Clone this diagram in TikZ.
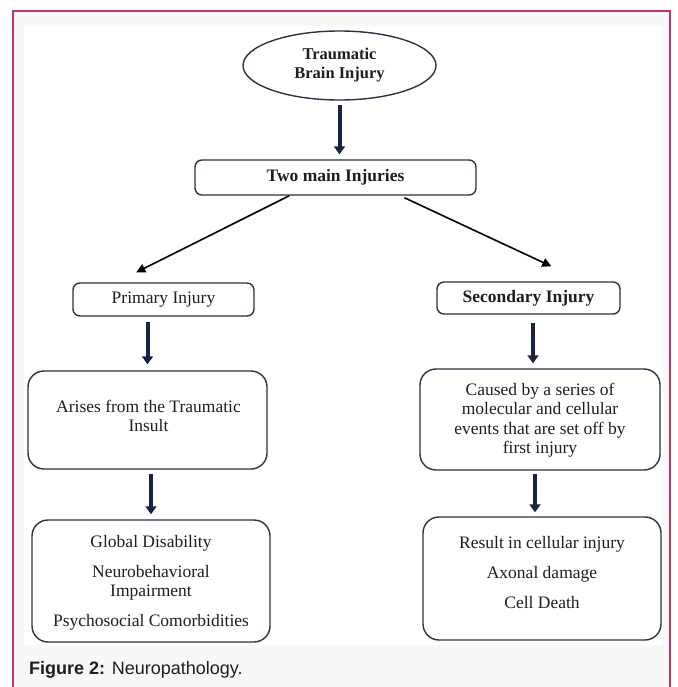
\documentclass[tikz,border=0pt]{standalone}
\usepackage{fontspec}
\setmainfont{Liberation Serif}
\newfontfamily\capfont{Liberation Sans}
\usetikzlibrary{shapes.geometric,arrows.meta}
\definecolor{framec}{HTML}{C8355A}
\definecolor{bggrey}{HTML}{F9F7F8}
\definecolor{ink}{HTML}{1E1E1E}
\definecolor{boxline}{HTML}{2E3244}
\definecolor{navy}{HTML}{1A2340}
\tikzset{
  boxbase/.style={draw=boxline, line width=1.4pt, fill=white, inner sep=0pt, align=center, text=ink},
  smallbox/.style={boxbase, rounded corners=7pt},
  bigbox/.style={boxbase, rounded corners=16pt},
  txt/.style={inner sep=0pt, align=center, text=ink, font=\fontsize{17.5}{19.5}\selectfont},
  thickarrow/.style={draw=navy, line width=4pt, -{Triangle[width=11pt,length=8pt]}},
  thinarrow/.style={draw=black, line width=1.6pt, -{Triangle[width=9pt,length=9pt]}},
}
\begin{document}
\begin{tikzpicture}[x=1pt,y=-1pt]
\useasboundingbox (0,0) rectangle (677,687);
\fill[bggrey] (13,11) rectangle (670,700);
\fill[white] (24,26) rectangle (663,645);
\draw[framec, line width=1.5pt] (13,11) rectangle (670,700);

\node[boxbase, ellipse, minimum width=193pt, minimum height=69pt, font=\bfseries\fontsize{16.5}{19}\selectfont] (tbi) at (339.5,65.5) {Traumatic\\Brain Injury};

\node[smallbox, minimum width=281pt, minimum height=35pt, font=\bfseries\fontsize{17.5}{20}\selectfont] (two) at (335.5,177.5) {Two main Injuries};

\node[smallbox, minimum width=181pt, minimum height=33pt, font=\fontsize{17.5}{20}\selectfont] (prim) at (163.5,299.5) {Primary Injury};
\node[smallbox, minimum width=183pt, minimum height=32pt, font=\bfseries\fontsize{17.5}{20}\selectfont] (sec) at (528.5,298) {Secondary Injury};

\node[bigbox, minimum width=239pt, minimum height=98pt] (arise) at (147.5,420) {};
\node[txt] (arisetxt) at (148.5,416) {Arises from the Traumatic\\Insult};

\node[bigbox, minimum width=240pt, minimum height=101pt] (caused) at (540,419.5) {};
\node[txt] (causedtxt) at (540,420) {Caused by a series of\\molecular and cellular\\events that are set off by\\first injury};

\node[bigbox, minimum width=238pt, minimum height=122pt] (glob) at (151,581) {};
\node[txt] (globtxt) at (151,583) {Global Disability\\[10pt]Neurobehavioral\\Impairment\\[10pt]Psychosocial Comorbidities};

\node[bigbox, minimum width=238pt, minimum height=123pt] (res) at (542,578.5) {};
\node[txt] (restxt) at (542,573) {Result in cellular injury\\[10.5pt]Axonal damage\\[10.5pt]Cell Death};

\node[anchor=west, inner sep=0pt, text=ink, font=\capfont\fontsize{18}{20}\selectfont] (cap) at (29,670) {\textbf{Figure 2:} Neuropathology.};

\draw[thickarrow, shorten <=4pt, shorten >=5pt] (tbi.south) -- (tbi.south |- two.north);
\draw[thinarrow] ([xshift=95pt]two.south west) -- ([xshift=64pt,yshift=10pt]prim.north west);
\draw[thinarrow] ([xshift=210pt,yshift=-2pt]two.south west) -- ([xshift=115pt,yshift=15pt]sec.north west);
\draw[thickarrow, shorten <=5pt, shorten >=6pt] (arise.north |- prim.south) -- (arise.north);
\draw[thickarrow, shorten <=8pt, shorten >=5pt] ([xshift=4.5pt]sec.south) -- ([xshift=4.5pt]sec.south |- caused.north);
\draw[thickarrow, shorten <=4pt, shorten >=5pt] ([xshift=3.5pt]arise.south) -- ([xshift=3.5pt]arise.south |- glob.north);
\draw[thickarrow, shorten <=3pt, shorten >=4pt] ([xshift=-5pt]caused.south) -- ([xshift=-5pt]caused.south |- res.north);
\end{tikzpicture}
\end{document}
